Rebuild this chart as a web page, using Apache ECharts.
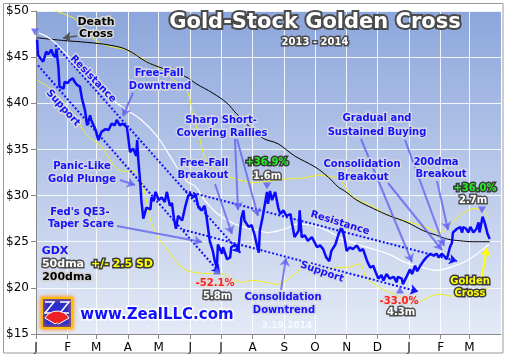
<!DOCTYPE html>
<html><head><meta charset="utf-8">
<script src="https://cdn.jsdelivr.net/npm/echarts@6/dist/echarts.min.js"></script>
<style>html,body{margin:0;padding:0;background:#fff}#c{width:510px;height:359px}</style>
</head><body><div id="c"></div>
<script>
// ---- axis definitions ----
const monthStartDays = [0,31,59,90,120,151,181,212,243,273,304,334,365,396,424];
const monthLabels = ['J','F','M','A','M','J','J','A','S','O','N','D','J','F','M'];
const totalDays = 456; // Jan 1 2013 .. Apr 1 2014
const yMin = 15, yMax = 50, yStep = 5;

// ---- GDX daily close (day offset from Jan 1 2013) ----
const gdxDays = [1,2,7,10,12,15,17,19,20,22,23,27,28,31,33,36,38,40,43,45,48,50,53,54,58,61,64,68,71,74,77,79,82,85,89,90,92,95,98,99,100,102,103,105,108,112,113,115,117,120,123,126,128,131,133,135,137,139,143,146,149,151,154,156,159,162,165,167,170,173,175,177,178,182,183,187,190,191,195,198,201,203,204,208,211,214,216,218,219,222,226,227,229,231,234,237,239,242,245,249,250,253,257,258,260,263,266,270,275,278,281,284,287,289,293,296,299,301,302,304,307,310,314,317,320,324,327,330,332,335,338,340,343,346,350,353,354,358,359,363,366,368,371,373,376,379,382,386,389,392,394,397,399,402,405,407,408,412,415,417,418,421,423,425,428,431,433,434,437,439,442,444];
const gdxPrice = [46.9,45.2,44.5,45.6,45.3,45.8,45.2,45.0,45.9,43.8,41.8,41.6,42.3,42.2,42.5,42.7,42.3,42.0,41.8,40.5,39.2,37.6,38.7,38.2,37.2,36.0,36.9,37.2,37.1,37.8,37.6,38.2,37.6,37.8,37.4,36.5,34.7,35.1,34.3,36.0,34.0,31.4,29.6,27.5,28.7,28.5,29.8,29.4,30.4,29.5,29.8,29.3,30.4,28.9,29.2,27.5,26.4,27.8,27.3,28.8,30.0,30.2,29.8,30.2,28.7,28.4,28.9,27.6,25.1,24.0,22.9,22.2,24.7,23.7,24.4,23.1,23.3,24.4,24.7,24.2,27.6,28.4,27.3,26.6,26.8,25.7,24.7,23.8,26.2,27.8,30.4,29.1,30.5,29.5,30.4,28.7,28.0,28.4,27.8,28.0,27.3,25.5,26.2,28.4,25.5,25.7,25.1,25.5,24.4,24.6,24.2,23.3,22.9,24.0,24.7,25.8,26.6,25.8,25.3,24.0,24.4,24.2,24.6,24.0,24.2,22.9,22.2,22.4,21.8,21.0,21.4,20.8,21.5,21.0,21.2,20.6,21.2,21.0,20.4,21.3,22.0,21.5,22.4,21.8,22.4,22.9,23.3,23.7,23.5,23.7,23.3,23.7,23.5,23.1,24.4,24.9,26.0,26.4,26.6,26.0,26.6,26.4,26.0,26.6,26.0,26.4,27.1,26.0,27.7,27.1,25.8,25.3];

// ---- 50-day moving average ----
const dma50Days = [3,14,30,45,60,76,88,102,118,131,147,156,165,178,195,211,227,244,256,270,285,300,315,330,346,363,382,392,405,421,434,443];
const dma50 = [47.6,47.0,45.3,43.6,42.0,40.3,39.3,38.3,36.5,34.3,31.6,31.0,29.5,28.0,26.9,26.4,26.0,26.4,26.9,26.8,26.2,25.3,24.7,24.2,23.6,22.7,22.1,21.9,22.2,22.9,23.9,24.7];

// ---- 200-day moving average ----
const dma200Days = [1,27,50,72,89,108,121,146,157,173,187,196,221,237,253,273,286,296,302,314,330,346,363,379,392,402,415,428,444];
const dma200 = [47.1,46.8,46.6,46.3,45.8,44.5,43.9,42.9,42.1,41.1,40.0,38.9,36.3,35.6,34.3,33.1,32.0,30.9,30.5,29.5,28.6,27.8,27.1,26.2,25.7,25.3,25.1,25.0,25.0];

// ---- 50dma +/- 2.5 SD bands ----
const upperDays = [3,14,20,27,40,50,63,75,88,102,112,125,135,146,151,153,160,163,167,180,196,212,229,245,261,278,291,297,310,330,346,363,379,395,408,418,428,437,443];
const upperBand = [52.5,51.5,50.0,49.7,49.0,47.6,46.5,46.1,45.8,45.0,44.3,43.6,42.5,41.7,40.3,38.9,36.3,34.9,33.8,32.4,31.8,31.4,31.6,31.8,31.9,32.2,32.0,31.8,29.9,28.8,27.8,27.2,26.7,26.0,27.2,28.1,28.6,28.4,27.6];
const lowerDays = [1,14,27,40,50,64,76,86,95,102,108,113,120,131,139,147,160,183,190,200,212,226,235,245,255,265,275,284,294,304,317,323,337,350,363,376,386,395,408,418,428,443];
const lowerBand = [42.5,41.6,40.1,38.2,36.5,35.3,33.3,32.6,32.7,32.0,29.5,27.0,25.4,23.8,22.6,21.9,21.6,21.5,21.1,20.6,20.8,20.6,20.4,20.8,21.7,22.4,22.2,22.0,22.2,22.2,22.6,21.1,20.0,19.3,18.8,18.6,19.1,19.3,19.1,19.3,19.6,20.0];

// ---- dotted trend channels (day, price) ----
const trendLines = [
  [[19,46.3],[200,23.8]],
  [[2,44.1],[180,21.6]],
  [[146,30.5],[412,22.9]],
  [[144,26.3],[374,19.6]]
];

const cats = [];
for (let i = 0; i < totalDays; i++) cats.push(String(i));
const pairs = (d, v) => d.map((x, i) => [String(x), v[i]]);
const isMonth = (i) => monthStartDays.indexOf(i) >= 0;

// annotation pointer arrows (pixels)
const pointerArrows = [
  [[133,93],[123,116]],
  [[120,180],[135,185]],
  [[117,226],[202,242]],
  [[215,184],[232,234]],
  [[235,139],[238,210]],
  [[237,139],[258,216]],
  [[281,290],[286,258]],
  [[361,139],[412,262]],
  [[405,140],[444,246]],
  [[388,183],[442,250]],
  [[437,181],[448,230]]
];
const FONT = '"DejaVu Sans", Verdana, sans-serif';
const BLUE = '#1212ff';
const HALO = '#d6d6e2';

function T(text, x, y, fill, stroke, size, extra, lw) {
  return Object.assign({
    type: 'text', x: x, y: y, z: 100, silent: true,
    style: { text: text, x: 0, y: 0, fill: fill, stroke: stroke, lineWidth: lw || 3,
      font: 'bold ' + size + 'px ' + FONT, align: 'center', verticalAlign: 'middle',
      shadowBlur: 2, shadowColor: 'rgba(40,40,60,0.55)' }
  }, extra || {});
}
const deg = Math.PI / 180;

const markLineData = [];
trendLines.forEach(l => {
  markLineData.push([
    { coord: [String(l[0][0]), l[0][1]], symbol: 'none',
      lineStyle: { type: 'dotted', color: '#1010ff', width: 2 } },
    { coord: [String(l[1][0]), l[1][1]], symbol: 'arrow' }
  ]);
});
pointerArrows.forEach(a => {
  markLineData.push([
    { x: a[0][0], y: a[0][1], symbol: 'none',
      lineStyle: { type: 'solid', color: 'rgba(100,100,240,0.8)', width: 2 } },
    { x: a[1][0], y: a[1][1], symbol: 'arrow' }
  ]);
});
markLineData.push([
  { x: 77, y: 36, symbol: 'none', lineStyle: { type: 'solid', color: '#555', width: 1.5 } },
  { x: 63, y: 38, symbol: 'arrow' }
]);
markLineData.push([
  { x: 482, y: 277, symbol: 'none', lineStyle: { type: 'solid', color: '#ffff00', width: 2 } },
  { x: 487, y: 248, symbol: 'arrow' }
]);

const tri = (x, y, down) => ({ x: x, y: y, symbol: 'triangle', symbolRotate: down ? 180 : 0,
  symbolSize: [8, 7], itemStyle: { color: 'rgba(100,100,240,0.85)' } });

const option = {
  animation: false,
  backgroundColor: '#ffffff',
  grid: {
    left: 36, right: 9, top: 11, bottom: 25, show: true, borderWidth: 0,
    backgroundColor: { type: 'linear', x: 0, y: 0, x2: 0, y2: 1,
      colorStops: [{ offset: 0, color: '#8ca6dc' }, { offset: 1, color: '#e4eaf6' }] }
  },
  xAxis: {
    type: 'category', data: cats, boundaryGap: false,
    axisLine: { lineStyle: { color: '#888' } },
    axisTick: { interval: (i) => isMonth(i), length: 5, lineStyle: { color: '#888' } },
    axisLabel: { interval: (i) => isMonth(i),
      formatter: (v) => monthLabels[monthStartDays.indexOf(Number(v))],
      color: '#000', fontSize: 12, fontFamily: FONT, margin: 8 },
    splitLine: { show: true, interval: (i) => isMonth(i),
      lineStyle: { color: 'rgba(255,255,255,0.85)', width: 1 } }
  },
  yAxis: {
    type: 'value', min: yMin, max: yMax, interval: yStep,
    axisLine: { show: true, lineStyle: { color: '#888' } },
    axisTick: { show: true, length: 5, lineStyle: { color: '#888' } },
    axisLabel: { formatter: '${value}', color: '#000', fontSize: 12, fontFamily: FONT, margin: 7 },
    splitLine: { lineStyle: { color: 'rgba(255,255,255,0.85)', width: 1 } }
  },
  series: [
    { type: 'line', data: pairs(upperDays, upperBand), symbol: 'none', smooth: 0.3, z: 2,
      lineStyle: { color: '#f0f020', width: 1 }, silent: true },
    { type: 'line', data: pairs(lowerDays, lowerBand), symbol: 'none', smooth: 0.3, z: 2,
      lineStyle: { color: '#f0f020', width: 1 }, silent: true },
    { type: 'line', data: pairs(dma200Days, dma200), symbol: 'none', smooth: 0.4, z: 3,
      lineStyle: { color: '#000000', width: 1 }, silent: true },
    { type: 'line', data: pairs(dma50Days, dma50), symbol: 'none', smooth: 0.4, z: 3,
      lineStyle: { color: '#ffffff', width: 1.2 }, silent: true },
    { type: 'line', data: pairs(gdxDays, gdxPrice), symbol: 'none', z: 5,
      lineStyle: { color: '#0a0aff', width: 2.5 }, silent: true,
      markLine: { silent: true, animation: false, symbolSize: 8, label: { show: false },
        emphasis: { disabled: true }, data: markLineData },
      markPoint: { silent: true, animation: false, label: { show: false },
        data: [tri(35, 32, true), tri(217, 271, false), tri(267, 186, true), tri(400, 290, false), tri(482, 210, true)] }
    }
  ],
  graphic: [
    { type: 'rect', z: 90, silent: true, shape: { x: 3.5, y: 3.5, width: 499.5, height: 349.5 },
      style: { fill: 'none', stroke: '#9a9a9a', lineWidth: 1 } },
    T('Gold-Stock Golden Cross', 315, 23, '#ffffff', '#4a4a4a', 21, null, 4),
    T('2013 - 2014', 315, 42, '#ffffff', '#4a4a4a', 10),
    T('Death', 96, 22, '#000000', '#d8d8d8', 11),
    T('Cross', 96, 34, '#000000', '#d8d8d8', 11),
    T('Resistance', 93, 79, BLUE, HALO, 10, { rotation: -46 * deg }),
    T('Support', 63, 108, BLUE, HALO, 10, { rotation: -48 * deg }),
    T('Free-Fall', 159, 73, BLUE, HALO, 10),
    T('Downtrend', 160, 86, BLUE, HALO, 10),
    T('Sharp Short-', 221, 120, BLUE, HALO, 10),
    T('Covering Rallies', 222, 133, BLUE, HALO, 10),
    T('Free-Fall', 204, 163, BLUE, HALO, 10),
    T('Breakout', 203, 175, BLUE, HALO, 10),
    T('Panic-Like', 82, 166, BLUE, HALO, 10),
    T('Gold Plunge', 82, 179, BLUE, HALO, 10),
    T("Fed's QE3-", 80, 212, BLUE, HALO, 10),
    T('Taper Scare', 81, 224, BLUE, HALO, 10),
    T('Gradual and', 377, 118, BLUE, HALO, 10),
    T('Sustained Buying', 377, 132, BLUE, HALO, 10),
    T('Consolidation', 362, 164, BLUE, HALO, 10),
    T('Breakout', 363, 177, BLUE, HALO, 10),
    T('200dma', 436, 162, BLUE, HALO, 10),
    T('Breakout', 441, 174, BLUE, HALO, 10),
    T('Resistance', 340, 223, BLUE, HALO, 10, { rotation: -17 * deg }),
    T('Support', 322, 272, BLUE, HALO, 10, { rotation: -19 * deg }),
    T('Consolidation', 283, 297, BLUE, HALO, 10),
    T('Downtrend', 284, 310, BLUE, HALO, 10),
    T('+36.9%', 267, 162, '#22ee22', '#3a3a3a', 10),
    T('1.6m', 267, 176, '#ffffff', '#505050', 10),
    T('-52.1%', 215, 283, '#ff2020', '#dcdcdc', 10),
    T('5.8m', 217, 296, '#ffffff', '#505050', 10),
    T('-33.0%', 399, 301, '#ff2020', '#dcdcdc', 10),
    T('4.3m', 401, 312, '#ffffff', '#505050', 10),
    T('+36.0%', 475, 188, '#22ee22', '#3a3a3a', 10),
    T('2.7m', 473, 200, '#ffffff', '#505050', 10),
    T('Golden', 470, 281, '#ffff00', '#3a3a3a', 10),
    T('Cross', 470, 293, '#ffff00', '#3a3a3a', 10),
    T('GDX', 55, 251, BLUE, HALO, 11),
    T('50dma', 63, 264, '#ffffff', '#505050', 11),
    T('+/- 2.5 SD', 122, 264, '#ffff00', '#3a3a3a', 11),
    T('200dma', 67, 277, '#000000', '#d0d0d0', 11),
    T('www.ZealLLC.com', 157, 315, '#1010ff', '#ffffff', 15),
    { type: 'text', x: 287, y: 326, z: 100, silent: true,
      style: { text: '3.19.2014', x: 0, y: 0, fill: 'rgba(255,255,255,0.75)', font: 'bold 9px ' + FONT, align: 'center', verticalAlign: 'middle' } },
    { type: 'rect', z: 100, silent: true, shape: { x: 42, y: 298, width: 30, height: 30 },
      style: { fill: '#2d2dcc', stroke: '#ffbb00', lineWidth: 2, shadowBlur: 4, shadowColor: '#ff8800' } },
    { type: 'polyline', z: 101, silent: true, shape: { points: [[45,302],[54,302],[45,313],[54,313]] },
      style: { fill: 'none', stroke: '#ffffff', lineWidth: 1.5 } },
    { type: 'polyline', z: 101, silent: true, shape: { points: [[60,302],[69,302],[60,313],[69,313]] },
      style: { fill: 'none', stroke: '#ffffff', lineWidth: 1.5 } },
    { type: 'sector', z: 102, silent: true,
      shape: { cx: 57, cy: 325, r0: 2, r: 14, startAngle: -150 * deg, endAngle: -30 * deg },
      style: { fill: '#ee2222', stroke: '#ffffff', lineWidth: 1 } }
  ]
};
const chart = echarts.init(document.getElementById('c'), null, { renderer: 'canvas' });
chart.setOption(option);
</script>
</body></html>
